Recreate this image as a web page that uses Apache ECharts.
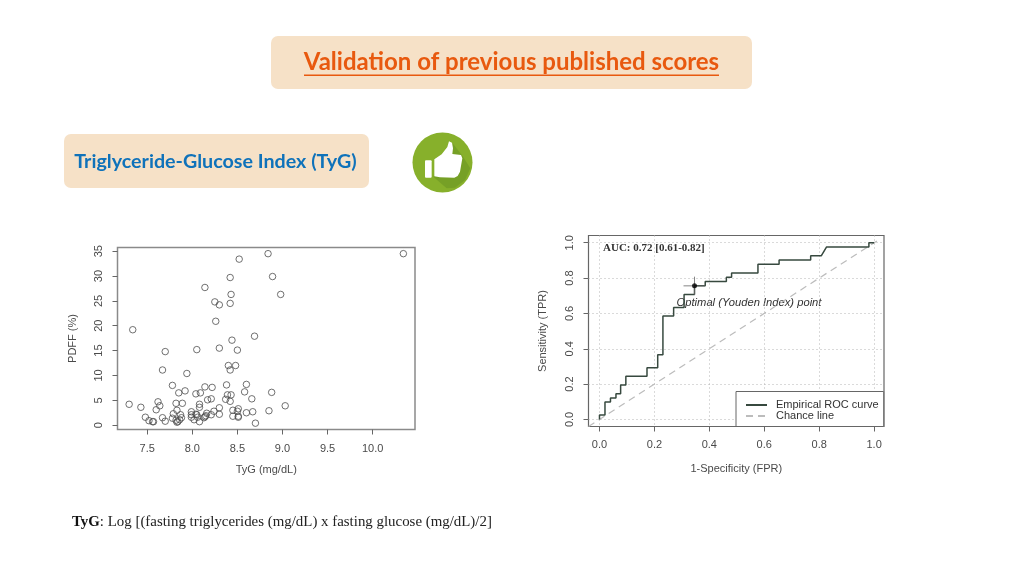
<!DOCTYPE html>
<html><head><meta charset="utf-8">
<style>html,body{margin:0;padding:0;background:#fff}#c{width:1024px;height:576px}</style>
<script src="https://cdn.jsdelivr.net/npm/echarts@6/dist/echarts.min.js"></script>
</head><body><div id="c"></div>
<script>
const tygPdff = [[10.34,34.5],[8.84,34.5],[8.52,33.4],[8.42,29.7],[8.89,29.9],[8.14,27.7],[8.43,26.3],[8.98,26.3],[8.25,24.8],[8.30,24.2],[8.42,24.5],[8.26,20.9],[7.34,19.2],[8.69,17.9],[8.44,17.1],[7.70,14.8],[8.05,15.2],[8.30,15.5],[8.50,15.1],[7.67,11.1],[7.94,10.4],[8.40,12.0],[8.48,12.0],[8.42,11.1],[7.78,8.0],[8.38,8.1],[8.60,8.2],[8.14,7.7],[8.22,7.6],[7.85,6.5],[7.92,6.9],[8.04,6.3],[8.09,6.5],[8.58,6.7],[8.88,6.6],[8.39,6.1],[8.43,6.1],[8.17,5.1],[8.21,5.3],[8.37,5.2],[8.42,4.8],[8.66,5.3],[7.30,4.2],[7.62,4.7],[7.64,3.9],[7.43,3.6],[7.60,3.1],[7.82,4.4],[7.89,4.4],[8.08,4.2],[8.08,3.6],[8.30,3.5],[9.03,3.9],[8.51,3.3],[8.45,3.0],[8.50,2.8],[8.60,2.5],[8.67,2.7],[8.85,2.9],[7.83,3.0],[7.79,2.3],[7.87,2.1],[7.99,2.7],[7.99,2.1],[8.04,2.2],[8.05,2.1],[8.24,2.8],[8.16,2.4],[8.21,2.1],[8.30,2.2],[8.45,1.8],[8.51,1.8],[8.51,1.6],[8.70,0.4],[7.48,1.6],[7.52,0.9],[7.56,0.7],[7.57,0.7],[7.67,1.5],[7.70,0.8],[7.78,1.4],[7.82,1.0],[7.83,0.6],[7.84,0.7],[7.86,1.1],[7.88,1.5],[7.99,1.6],[8.02,1.1],[8.08,0.7],[8.06,1.6],[8.13,1.5],[8.14,1.7],[8.15,1.9]];
const rocCurve = [[0,0],[0,0.025],[0.02,0.025],[0.02,0.098],[0.04,0.098],[0.04,0.122],[0.06,0.122],[0.06,0.146],[0.077,0.146],[0.077,0.195],[0.096,0.195],[0.096,0.244],[0.173,0.244],[0.173,0.293],[0.212,0.293],[0.212,0.366],[0.231,0.366],[0.231,0.585],[0.27,0.585],[0.27,0.634],[0.308,0.634],[0.308,0.707],[0.346,0.707],[0.346,0.756],[0.385,0.756],[0.385,0.78],[0.462,0.78],[0.462,0.805],[0.481,0.805],[0.481,0.829],[0.577,0.829],[0.577,0.878],[0.654,0.878],[0.654,0.902],[0.769,0.902],[0.769,0.927],[0.808,0.927],[0.827,0.976],[0.981,0.976],[0.981,1],[1,1]];
const chanceLine = [[-0.04,-0.04],[1.02,1.02]];
const youdenPoint = [[0.346,0.756]];
const youdenH = [[0.306,0.756],[0.385,0.756]];
const youdenV = [[0.346,0.704],[0.346,0.808]];
const scatterXTicks = [7.5,8,8.5,9,9.5,10];
const scatterYTicks = [0,5,10,15,20,25,30,35];
const rocTicks = [0,0.2,0.4,0.6,0.8,1];

const sans = '"Liberation Sans"';
const txt = '#4a4a4a';
function ax(name, ticks, min, max, gap, isY, fmt, split, margin) {
  return {
    type:'value', name, nameLocation:'middle', nameGap:gap, min, max,
    nameTextStyle:{fontFamily:sans,fontSize:11,color:txt},
    axisLine:{show:false,onZero:false},
    axisTick:{show:true,customValues:ticks,length:5,lineStyle:{color:'#666',width:1}},
    axisLabel:{customValues:ticks,rotate:isY?90:0,margin:margin,fontFamily:sans,fontSize:11,color:txt,formatter:fmt,
      verticalAlign:isY?'middle':undefined,align:'center'},
    splitLine:{show:!!split,lineStyle:{type:[1,3],color:'#b5b5b5',width:1}}
  };
}
const chart = echarts.init(document.getElementById('c'),null,{renderer:'canvas'});
chart.setOption({
  animation:false,
  backgroundColor:'#fff',
  grid:[
    {left:117.5,top:247.5,width:297.5,height:182,show:true,borderColor:'#8a8a8a',borderWidth:1.5,containLabel:false},
    {left:588.5,top:235.5,width:295.5,height:191,show:true,borderColor:'#666',borderWidth:1.2,containLabel:false}
  ],
  xAxis:[
    Object.assign(ax('TyG (mg/dL)',scatterXTicks,7.171,10.469,34.5,false,v=>v.toFixed(1),false,14),{gridIndex:0}),
    Object.assign(ax('1-Specificity (FPR)',rocTicks,-0.04,1.036,36.5,false,v=>v.toFixed(1),true,13),{gridIndex:1})
  ],
  yAxis:[
    Object.assign(ax('PDFF (%)',scatterYTicks,-0.87,35.74,39.5,true,v=>String(v),false,19),{gridIndex:0}),
    Object.assign(ax('Sensitivity (TPR)',rocTicks,-0.04,1.041,40.5,true,v=>v.toFixed(1),true,19),{gridIndex:1})
  ],
  legend:{
    data:[{name:'Empirical ROC curve'},{name:'Chance line'}],
    orient:'vertical',left:736,top:391.5,
    padding:[8,5,5,9],itemGap:0,itemWidth:21,itemHeight:11,
    itemStyle:{opacity:0},
    backgroundColor:'#fff',borderColor:'#666',borderWidth:1,
    textStyle:{fontFamily:sans,fontSize:11,lineHeight:11,color:'#333',padding:[0,0,0,4]},
    selectedMode:false,z:20
  },
  series:[
    {type:'scatter',xAxisIndex:0,yAxisIndex:0,data:tygPdff,symbol:'circle',symbolSize:6.5,
     itemStyle:{color:'rgba(255,255,255,0)',borderColor:'#4d4d4d',borderWidth:1},silent:true},
    {name:'Chance line',type:'line',xAxisIndex:1,yAxisIndex:1,data:chanceLine,showSymbol:false,symbol:'none',
     lineStyle:{color:'#bcbcbc',width:1.2,type:[7,5]},itemStyle:{color:'#bcbcbc'},z:2},
    {name:'Empirical ROC curve',type:'line',xAxisIndex:1,yAxisIndex:1,data:rocCurve,showSymbol:false,symbol:'none',
     lineStyle:{color:'#37493f',width:1.5},itemStyle:{color:'#37493f'},z:3},
    {type:'line',xAxisIndex:1,yAxisIndex:1,data:youdenH,showSymbol:false,symbol:'none',lineStyle:{color:'#666',width:0.8},z:3},
    {type:'line',xAxisIndex:1,yAxisIndex:1,data:youdenV,showSymbol:false,symbol:'none',lineStyle:{color:'#666',width:0.8},z:3},
    {type:'scatter',xAxisIndex:1,yAxisIndex:1,data:youdenPoint,symbol:'circle',symbolSize:5,itemStyle:{color:'#000'},z:4}
  ],
  graphic:[
    {type:'rect',shape:{x:271,y:36,width:481,height:53,r:7},style:{fill:'#f6e1c7'},z:-1},
    {type:'text',x:511.5,y:62.5,style:{text:'Validation of previous published scores',fontFamily:'Lato',fontWeight:'bold',fontSize:24,fill:'#e8590f',align:'center',verticalAlign:'middle'}},
    {type:'rect',shape:{x:304,y:74.5,width:415,height:1.4},style:{fill:'#e8590f'}},
    {type:'rect',shape:{x:64,y:134,width:305,height:54,r:7},style:{fill:'#f6e1c7'},z:-1},
    {type:'text',x:215.5,y:162,style:{text:'Triglyceride-Glucose Index (TyG)',fontFamily:'Lato',fontWeight:'bold',fontSize:19.7,fill:'#0f72ba',align:'center',verticalAlign:'middle'}},
    {type:'circle',shape:{cx:442.5,cy:162.5,r:30},style:{fill:'#87b02b'}},
    {type:'group',x:405,y:125,scaleX:1/3,scaleY:1/3,children:[
      {type:'polygon',shape:{points:[[143,55],[172,92],[196,130],[180,165],[150,188],[125,190],[85,155]]},style:{fill:'#76a026'}},
      {type:'polygon',shape:{points:[[88,103],[110,88],[127,66],[132,49],[141,53],[144,70],[142,87],[168,90],[172,100],[165,140],[158,153],[148,158],[105,157],[88,154]]},style:{fill:'#fff'}},
      {type:'rect',shape:{x:60,y:106,width:20,height:52,r:3},style:{fill:'#fff'}}
    ]},
    {type:'text',x:603,y:248,style:{text:'AUC: 0.72 [0.61-0.82]',fontFamily:'"Liberation Serif"',fontWeight:'bold',fontSize:11,fill:'#333',verticalAlign:'middle'}},
    {type:'text',x:749,y:303,style:{text:'Optimal (Youden Index) point',fontFamily:sans,fontStyle:'italic',fontSize:11.2,fill:'#333',align:'center',verticalAlign:'middle'}},
    {type:'text',x:72,y:522,style:{
      text:'{b|TyG}{r|: Log [(fasting triglycerides (mg/dL) x fasting glucose (mg/dL)/2]}',
      verticalAlign:'middle',
      rich:{b:{fontFamily:'"Liberation Serif"',fontWeight:'bold',fontSize:14.9,fill:'#111'},
            r:{fontFamily:'"Liberation Serif"',fontSize:14.9,fill:'#222'}}}}
  ]
});
</script></body></html>
